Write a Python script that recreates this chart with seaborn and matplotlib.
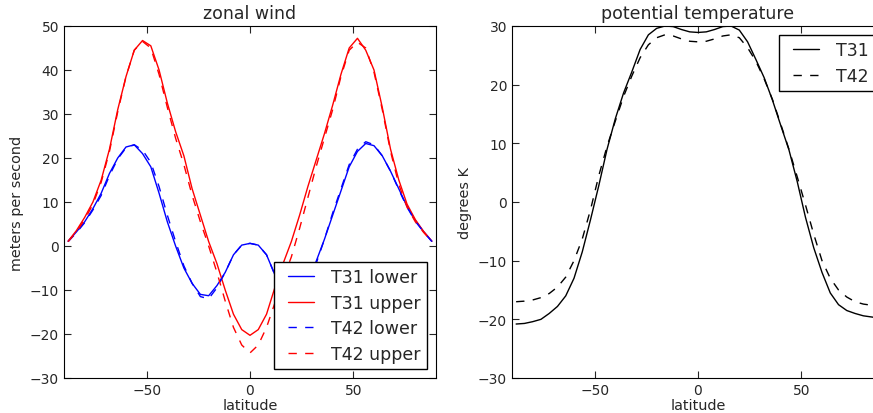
import numpy as np
import matplotlib
matplotlib.use('Agg')
import matplotlib.pyplot as plt
from matplotlib.lines import Line2D
from matplotlib.legend_handler import HandlerLine2D
import seaborn as sns

# latitudes shared by every series (degrees)
lat = [-88, -84, -80, -76, -72, -68, -64, -60, -56, -52, -48, -44, -40, -36, -32,
       -28, -24, -20, -16, -12, -8, -4, 0, 4, 8, 12, 16, 20, 24, 28, 32, 36, 40,
       44, 48, 52, 56, 60, 64, 68, 72, 76, 80, 84, 88]

# zonal wind (m/s)
t31_lower = [1.1, 3.2, 5.5, 8.5, 12.0, 16.5, 20.0, 22.5, 23.0, 21.0, 18.0, 12.0, 5.5,
             0.0, -5.0, -8.5, -11.0, -11.3, -9.0, -6.0, -2.0, 0.2, 0.6, 0.2, -2.0,
             -6.5, -10.0, -11.8, -11.0, -8.0, -3.5, 1.5, 7.0, 12.5, 18.0, 21.5, 23.3,
             22.8, 20.5, 17.0, 13.0, 9.0, 5.8, 3.3, 1.1]
t31_upper = [1.1, 3.5, 6.5, 10.0, 15.0, 22.0, 31.0, 38.5, 44.5, 46.7, 45.5, 40.0, 32.5,
             26.0, 20.5, 13.0, 7.0, 1.0, -4.0, -10.0, -15.5, -19.0, -20.3, -19.0, -15.5,
             -9.5, -4.0, 1.0, 7.0, 13.5, 19.5, 25.5, 32.0, 39.0, 45.0, 47.2, 44.5,
             40.0, 31.5, 22.0, 15.0, 9.5, 6.0, 3.3, 1.1]
t42_lower = [1.0, 3.0, 5.3, 8.2, 11.5, 16.0, 19.8, 22.3, 23.0, 21.8, 19.0, 13.5, 7.0,
             1.0, -4.5, -8.5, -11.5, -12.0, -9.5, -6.0, -2.0, 0.2, 0.6, 0.2, -2.0,
             -6.5, -10.0, -12.0, -11.5, -8.5, -4.0, 1.5, 7.5, 13.0, 18.5, 22.0, 23.7,
             23.0, 20.5, 17.0, 12.8, 8.8, 5.6, 3.2, 1.0]
t42_upper = [1.0, 3.2, 6.0, 9.5, 14.5, 21.5, 30.5, 38.5, 44.5, 46.5, 45.0, 39.0, 31.5,
             24.5, 18.5, 11.5, 5.5, 0.0, -6.0, -12.5, -18.5, -22.5, -24.3, -22.5, -18.5,
             -13.0, -7.5, -2.5, 4.0, 11.0, 18.0, 24.5, 31.0, 38.5, 44.5, 46.3, 45.0,
             39.5, 31.0, 21.5, 14.0, 8.8, 5.5, 3.1, 1.0]

# potential temperature (degrees K, anomaly)
pt_t31 = [-20.8, -20.7, -20.4, -20.0, -19.0, -17.8, -16.0, -13.0, -8.5, -3.0, 2.8, 9.0,
          14.2, 18.6, 22.2, 26.0, 28.5, 29.6, 30.0, 29.9, 29.4, 29.0, 28.9, 29.0, 29.4,
          29.9, 30.0, 29.3, 27.3, 24.3, 21.2, 17.4, 13.1, 8.9, 3.5, -2.6, -7.8, -12.0,
          -15.5, -17.5, -18.5, -19.0, -19.4, -19.6, -19.8]
pt_t42 = [-17.0, -16.9, -16.7, -16.3, -15.6, -14.5, -12.8, -10.0, -6.3, -1.3, 4.5, 9.5,
          13.8, 18.0, 21.5, 24.6, 26.8, 28.0, 28.5, 28.3, 27.8, 27.4, 27.3, 27.4, 27.8,
          28.3, 28.5, 28.0, 26.3, 24.0, 21.0, 17.5, 13.3, 9.0, 4.3, -0.5, -5.5, -10.0,
          -13.0, -15.0, -16.2, -17.0, -17.4, -17.6, -17.7]

sns.set_style('ticks', {'xtick.direction': 'in', 'ytick.direction': 'in',
                        'axes.edgecolor': 'black', 'axes.linewidth': 1.0})
plt.rcParams['font.family'] = ['DejaVu Sans']

dash = (0, (6, 6))
leg_kw = dict(fontsize=12.5, frameon=True, fancybox=False, edgecolor='black',
              framealpha=1, handlelength=1.9, handletextpad=1.0, labelspacing=0.43,
              borderpad=0.38, borderaxespad=0.5,
              handler_map={Line2D: HandlerLine2D(xpad=0.4)})

fig = plt.figure(figsize=(8.73, 4.14), dpi=100)
ax1 = fig.add_axes([64 / 873, 35 / 414, 372 / 873, 352 / 414])
ax2 = fig.add_axes([512 / 873, 35 / 414, 372 / 873, 352 / 414])

sns.lineplot(x=lat, y=t31_lower, ax=ax1, color='b', lw=1, label='T31 lower')
sns.lineplot(x=lat, y=t31_upper, ax=ax1, color='r', lw=1, label='T31 upper')
sns.lineplot(x=lat, y=t42_lower, ax=ax1, color='b', lw=1, ls=dash, label='T42 lower')
sns.lineplot(x=lat, y=t42_upper, ax=ax1, color='r', lw=1, ls=dash, label='T42 upper')
ax1.set_xlim(-90, 90)
ax1.set_ylim(-30, 50)
ax1.set_yticks(np.arange(-30, 51, 10))
ax1.set_title('zonal wind', fontsize=12.5)
ax1.set_xlabel('latitude', fontsize=10.4, labelpad=1)
ax1.set_ylabel('meters per second', fontsize=10.4)
ax1.legend(loc='lower right', **leg_kw)

sns.lineplot(x=lat, y=pt_t31, ax=ax2, color='k', lw=1, label='T31')
sns.lineplot(x=lat, y=pt_t42, ax=ax2, color='k', lw=1, ls=dash, label='T42')
ax2.set_xlim(-90, 90)
ax2.set_ylim(-30, 30)
ax2.set_yticks(np.arange(-30, 31, 10))
ax2.set_title('potential temperature', fontsize=12.5)
ax2.set_xlabel('latitude', fontsize=10.4, labelpad=1)
ax2.set_ylabel('degrees K', fontsize=10.4)
ax2.legend(loc='upper right', **leg_kw)

for ax in (ax1, ax2):
    ax.set_xticks([-50, 0, 50])
    ax.tick_params(top=True, right=True, labelsize=10, length=5, width=0.8)

fig.savefig('out.png', dpi=100)
